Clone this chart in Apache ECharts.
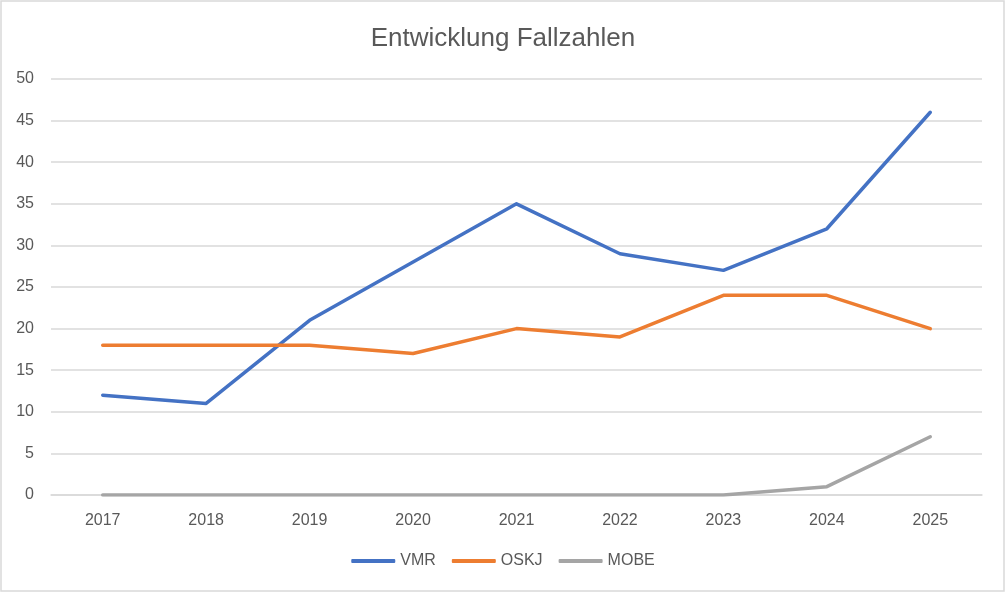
<!DOCTYPE html>
<html>
<head>
<meta charset="utf-8">
<script src="https://cdn.jsdelivr.net/npm/echarts@6/dist/echarts.min.js"></script>
<style>
html,body{margin:0;padding:0;background:#fff;}
#chart{width:1006px;height:593px;}
</style>
</head>
<body>
<div id="chart"></div>
<script>
const years = ['2017','2018','2019','2020','2021','2022','2023','2024','2025'];
const vmr  = [12, 11, 21, 28, 35, 29, 27, 32, 46];
const oskj = [18, 18, 18, 17, 20, 19, 24, 24, 20];
const mobe = [0, 0, 0, 0, 0, 0, 0, 1, 7];
const yTicks = {min: 0, max: 50, interval: 5};

const chart = echarts.init(document.getElementById('chart'), null, {renderer: 'canvas'});
const font = '"Liberation Sans", "DejaVu Sans", sans-serif';
const lineSeries = (name, data, color) => ({
  name, type: 'line', data, symbol: 'none', smooth: false,
  lineStyle: {color, width: 3.5, cap: 'round', join: 'round'},
  itemStyle: {color},
  emphasis: {disabled: true}
});
chart.setOption({
  animation: false,
  backgroundColor: '#ffffff',
  title: {
    text: 'Entwicklung Fallzahlen', left: 'center', top: 21,
    textStyle: {fontFamily: font, fontSize: 26, fontWeight: 'normal', color: '#595959'}
  },
  graphic: [{
    type: 'rect', shape: {x: 1, y: 1, width: 1003, height: 590},
    style: {fill: 'none', stroke: '#d9d9d9', lineWidth: 1.5}, silent: true
  }],
  legend: {
    bottom: 19, left: 'center', itemWidth: 44, itemHeight: 4, itemGap: 16,
    icon: 'roundRect',
    textStyle: {fontFamily: font, fontSize: 16, color: '#595959'},
    data: ['VMR', 'OSKJ', 'MOBE']
  },
  grid: {left: 51, right: 24, top: 79, bottom: 98, containLabel: false},
  xAxis: {
    type: 'category', data: years, boundaryGap: true,
    axisLine: {lineStyle: {color: '#d9d9d9', width: 1.5}},
    axisTick: {show: false},
    axisLabel: {fontFamily: font, fontSize: 16, color: '#595959', margin: 18}
  },
  yAxis: {
    type: 'value', min: yTicks.min, max: yTicks.max, interval: yTicks.interval,
    axisLine: {show: false}, axisTick: {show: false},
    splitLine: {lineStyle: {color: '#d9d9d9', width: 1.5}},
    axisLabel: {fontFamily: font, fontSize: 16, color: '#595959', margin: 17}
  },
  series: [
    lineSeries('VMR', vmr, '#4472C4'),
    lineSeries('OSKJ', oskj, '#ED7D31'),
    lineSeries('MOBE', mobe, '#A5A5A5')
  ]
});
</script>
</body>
</html>
